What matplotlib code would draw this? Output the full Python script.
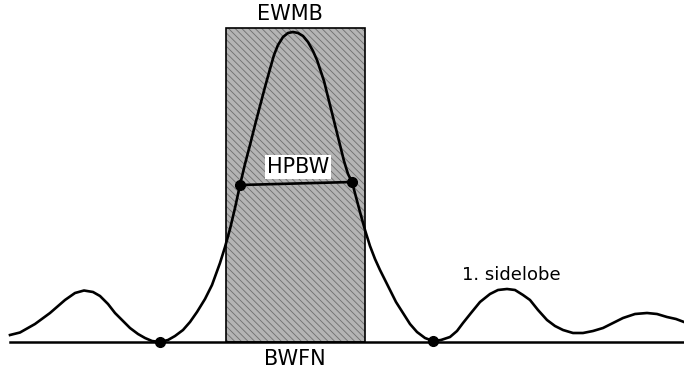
import matplotlib.pyplot as plt
from matplotlib.patches import Rectangle

# beam pattern (angle axis, linear gain with baseline = 0)
angle = [10, 20, 35, 50, 65, 75, 84, 93, 100, 108, 115, 123, 130, 138, 145, 152,
         160, 168, 175, 183, 190, 197, 205, 212, 220, 225, 230, 235, 240, 245,
         250, 255, 260, 265, 270, 274, 278, 283, 288, 293, 298, 303, 308, 313,
         317, 320, 324, 327, 330, 334, 337, 340, 344, 348, 352, 356, 360, 365,
         370, 375, 380, 385, 390, 396, 403, 410, 417, 425, 433, 441, 450, 457,
         463, 471, 480, 490, 498, 507, 515, 523, 530, 538, 547, 555, 563, 573,
         583, 593, 603, 613, 623, 635, 647, 657, 667, 676, 684]
gain = [7, 9.5, 18, 29, 42, 49, 51.5, 50, 46, 38, 29, 21, 14, 8, 4, 1,
        0, 2, 6, 12, 20, 30, 43, 57, 79, 95, 113, 134, 157, 178,
        197, 217, 236, 255, 273, 287, 297, 305, 309, 310, 309, 306, 300, 291,
        282, 273, 261, 249, 237, 221, 209, 197, 181, 168, 160, 145, 130, 112,
        96, 83, 72, 62, 52, 40, 29, 18, 10, 4, 1, 2, 5, 11,
        19, 29, 40, 48, 52, 53, 52, 47, 42, 32, 22, 16, 12, 9,
        9, 11, 14, 19, 24, 28, 29, 28, 25, 23, 20]

null_angles = [160, 433]
null_gain = [0, 1]
hpbw_angles = [240, 352]
hpbw_gain = [157, 160]
ewmb_left, ewmb_right, ewmb_height = 226, 365, 314

plt.rcParams['hatch.linewidth'] = 0.6
fig = plt.figure(figsize=(6.84, 3.78), dpi=100)
ax = fig.add_axes([0, 0, 1, 1])
ax.set_xlim(0, 684)
ax.set_ylim(-36, 342)
ax.axis('off')

# equivalent width main beam
ax.add_patch(Rectangle((ewmb_left, 0), ewmb_right - ewmb_left, ewmb_height,
                       facecolor='#b4b4b4', edgecolor='#6e6e6e', hatch='\\\\\\\\\\',
                       linewidth=0, zorder=1))
ax.add_patch(Rectangle((ewmb_left, 0), ewmb_right - ewmb_left, ewmb_height,
                       facecolor='none', edgecolor='black', linewidth=1.2, zorder=2))

ax.plot([10, 684], [0, 0], color='black', lw=1.8, zorder=3)
ax.plot(angle, gain, color='black', lw=1.9, zorder=4, solid_joinstyle='round')
ax.plot(hpbw_angles, hpbw_gain, color='black', lw=1.9, zorder=4)
ax.plot(null_angles, null_gain, 'o', color='black', ms=7, zorder=5)
ax.plot(hpbw_angles, hpbw_gain, 'o', color='black', ms=7, zorder=5)

ax.text(290, 328, 'EWMB', ha='center', va='center', fontsize=15)
ax.text(295, -17, 'BWFN', ha='center', va='center', fontsize=15)
ax.text(298, 175, 'HPBW', ha='center', va='center', fontsize=15, zorder=6,
        bbox=dict(facecolor='white', edgecolor='none', pad=1.5))
ax.text(511, 67, '1. sidelobe', ha='center', va='center', fontsize=13)

fig.savefig('out.png', dpi=100)
